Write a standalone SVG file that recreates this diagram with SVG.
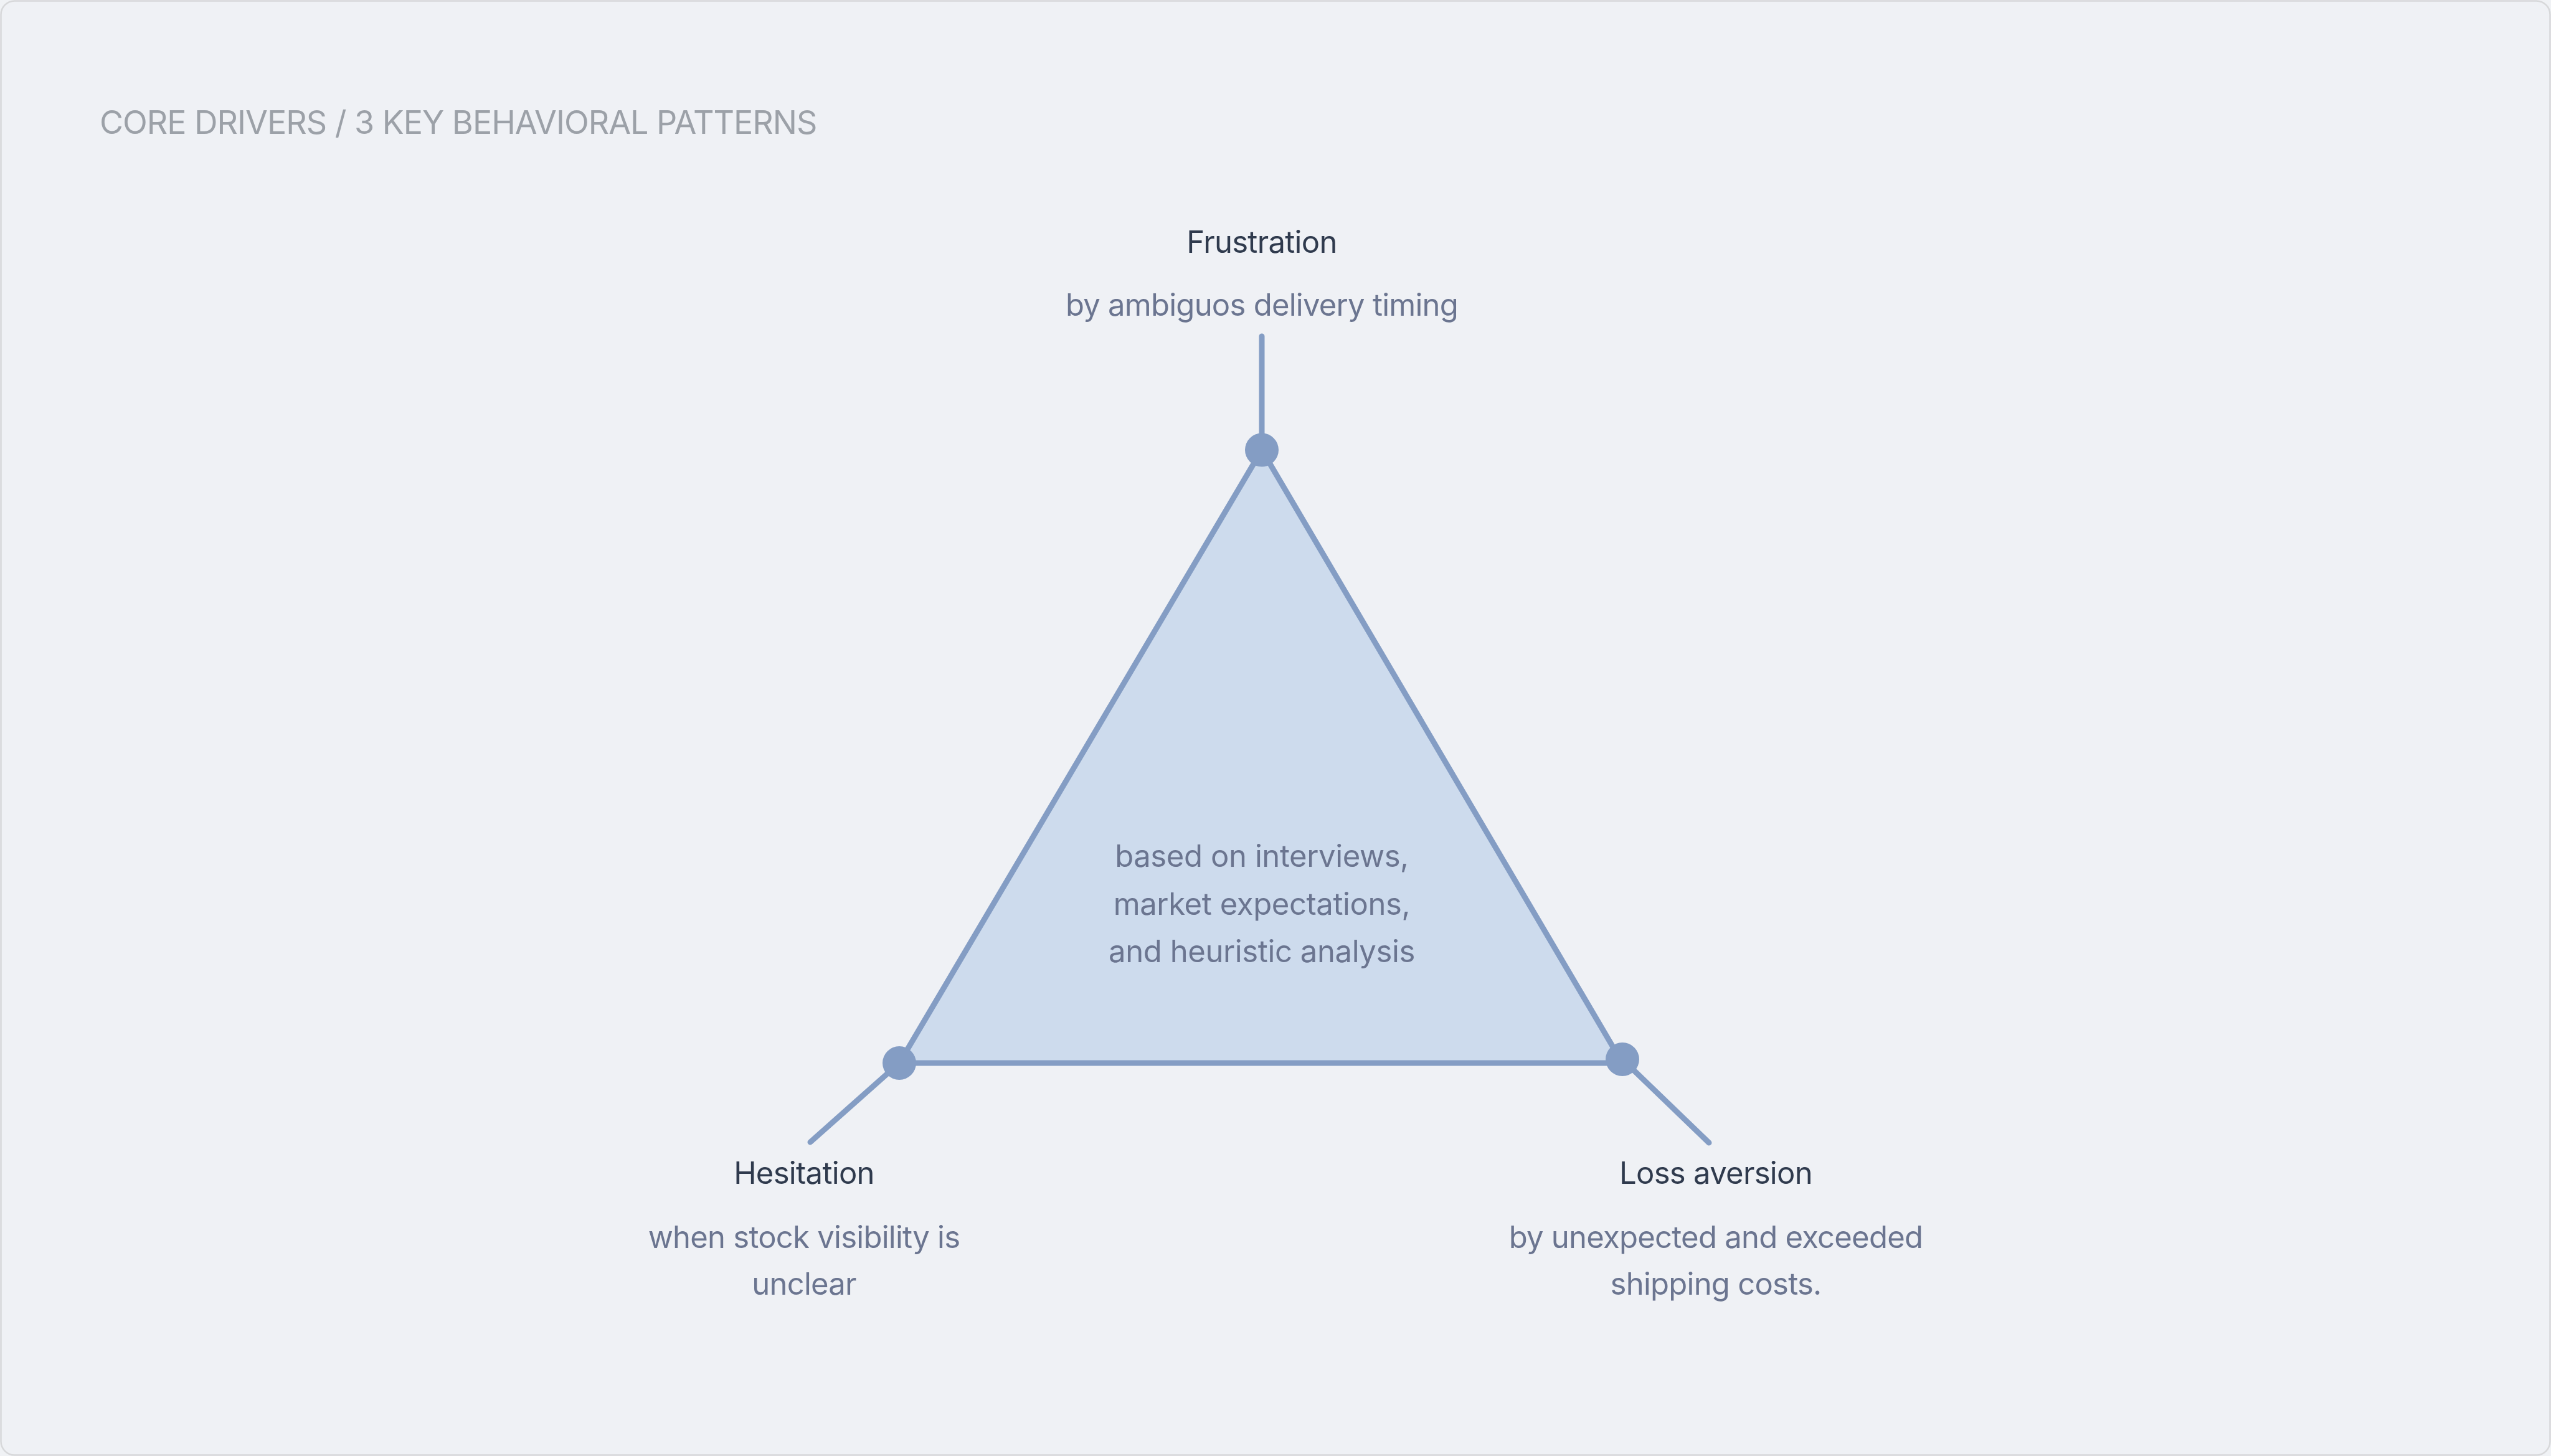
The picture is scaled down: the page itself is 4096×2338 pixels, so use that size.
<svg xmlns="http://www.w3.org/2000/svg" width="4096" height="2338" viewBox="0 0 4096 2338">
<style>
.hdr{font-family:Inter,"Liberation Sans",sans-serif;font-size:52px;letter-spacing:-1px;fill:#9ca1a8}
.ttl{font-family:Inter,"Liberation Sans",sans-serif;font-size:49px;letter-spacing:-0.7px;fill:#2f3a4d;text-anchor:middle}
.sub{font-family:Inter,"Liberation Sans",sans-serif;font-size:49px;letter-spacing:-0.75px;fill:#6b7590;text-anchor:middle}
.mid{letter-spacing:-0.4px}
.ln{stroke:#849dc4;stroke-width:9;stroke-linecap:round;fill:none}
.dot{fill:#849dc4}
</style>
<rect x="0" y="0" width="4096" height="2338" fill="#f0f2f5"/>
<rect x="1.5" y="1.5" width="4093" height="2335" rx="22" fill="#eff1f5" stroke="#d7d8da" stroke-width="2.5"/>
<text class="hdr" x="160" y="215">CORE DRIVERS / 3 KEY BEHAVIORAL PATTERNS</text>
<g id="triangle">
<polygon points="2026,722.5 1444,1707 2605,1707" fill="#cddbed" stroke="#849dc4" stroke-width="9" stroke-linejoin="round"/>
<text class="sub mid" x="2026" y="1392">based on interviews,</text>
<text class="sub mid" x="2026" y="1469">market expectations,</text>
<text class="sub mid" x="2026" y="1545">and heuristic analysis</text>
</g>
<g id="connectors">
<line class="ln" x1="2026" y1="540" x2="2026" y2="722.5"/>
<line class="ln" x1="1444" y1="1707" x2="1301" y2="1834"/>
<line class="ln" x1="2605" y1="1701" x2="2744" y2="1835"/>
</g>
<g id="frustration">
<circle class="dot" cx="2026" cy="722.5" r="27"/>
<text class="ttl" x="2026" y="406">Frustration</text>
<text class="sub" x="2026" y="507">by ambiguos delivery timing</text>
</g>
<g id="hesitation">
<circle class="dot" cx="1444" cy="1707" r="27"/>
<text class="ttl" x="1291" y="1901">Hesitation</text>
<text class="sub" x="1291" y="2004">when stock visibility is</text>
<text class="sub" x="1291" y="2079">unclear</text>
</g>
<g id="loss-aversion">
<circle class="dot" cx="2605" cy="1701" r="27"/>
<text class="ttl" x="2755" y="1901">Loss aversion</text>
<text class="sub" x="2755" y="2004">by unexpected and exceeded</text>
<text class="sub" x="2755" y="2079">shipping costs.</text>
</g>
</svg>
